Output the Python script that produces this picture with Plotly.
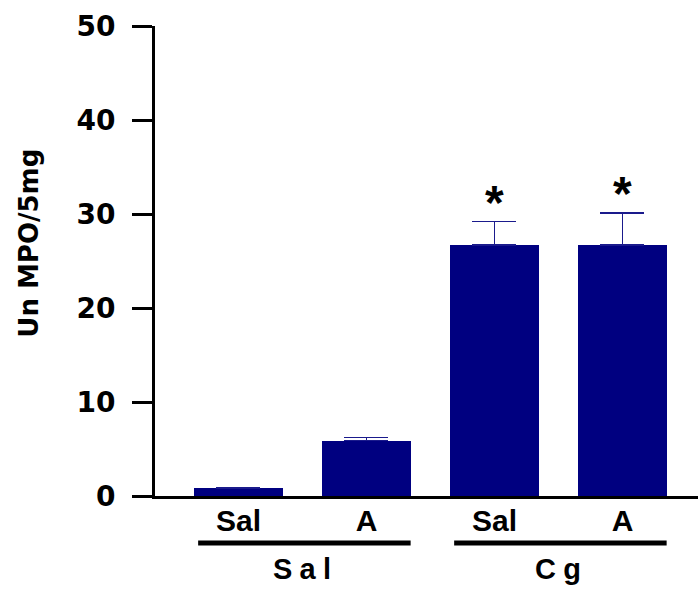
import plotly.graph_objects as go

# Treatment categories (inner label) and groups (outer label)
categories = ["Sal", "A", "Sal", "A"]
groups = ["Sal", "Cg"]
group_members = [[0, 1], [2, 3]]

# Mean MPO units per 5 mg tissue and SEM
means = [0.8, 5.9, 26.7, 26.7]
sems = [0.1, 0.35, 2.5, 3.4]
significant = [False, False, True, True]

y_ticks = [0, 10, 20, 30, 40, 50]

NAVY = "#000080"
FONT = "Liberation Sans, Arial, sans-serif"
WIDE_FONT = "DejaVu Sans, Verdana, sans-serif"
BAR_W = 0.69


def spaced(s, sep="\u2009"):
    return sep.join(list(s))


x_idx = list(range(len(categories)))

fig = go.Figure()
fig.add_trace(go.Bar(
    x=x_idx,
    y=means,
    width=BAR_W,
    marker=dict(color=NAVY, line=dict(width=0)),
    error_y=dict(
        type="data", symmetric=False, array=sems,
        arrayminus=[0] * len(sems),
        color="#1a1a8c", thickness=1.3, width=22,
    ),
    showlegend=False,
    hoverinfo="skip",
))

annotations = []
# significance asterisks above error bars
for i, (m, s, sig) in enumerate(zip(means, sems, significant)):
    if sig:
        annotations.append(dict(
            x=i, y=m + s, xref="x", yref="y", text="<b>*</b>",
            showarrow=False, yanchor="bottom", yshift=-9,
            font=dict(family=FONT, size=48, color="black"),
        ))

# group brackets and group labels
shapes = []
for g, members in zip(groups, group_members):
    x0 = members[0] - BAR_W / 2 + 0.03
    x1 = members[-1] + BAR_W / 2
    shapes.append(dict(
        type="line", xref="x", yref="paper",
        x0=x0, x1=x1, y0=-0.10, y1=-0.10,
        line=dict(color="black", width=5),
    ))
    annotations.append(dict(
        x=(members[0] + members[-1]) / 2, y=-0.118, xref="x", yref="paper",
        text="<b>" + spaced(g, "\u2005") + "</b>", showarrow=False,
        yanchor="top", font=dict(family=FONT, size=29, color="black"),
    ))

# y-axis title
annotations.append(dict(
    x=-0.231, y=0.538, xref="paper", yref="paper",
    xanchor="center", yanchor="middle",
    text="<b>Un MPO/5mg</b>", textangle=-90,
    showarrow=False,
    font=dict(family=WIDE_FONT, size=26, color="black"),
))

fig.update_layout(
    width=698, height=589,
    margin=dict(l=155, r=0, t=26, b=93),
    paper_bgcolor="white", plot_bgcolor="white",
    bargap=0,
    xaxis=dict(
        range=[-0.652, 3.59],
        tickmode="array", tickvals=x_idx,
        ticktext=["<b>" + c + "</b>" for c in categories],
        tickfont=dict(family=FONT, size=30, color="black"),
        showline=True, linecolor="black", linewidth=3,
        ticks="",
        ticklabelstandoff=-4,
        showgrid=False, zeroline=False, fixedrange=True,
    ),
    yaxis=dict(
        range=[0, 50],
        tickmode="array", tickvals=y_ticks,
        ticktext=["<b>" + str(v) + "</b>" for v in y_ticks],
        tickfont=dict(family=WIDE_FONT, size=28, color="black"),
        showline=True, linecolor="black", linewidth=3,
        ticks="outside", ticklen=20, tickwidth=3, tickcolor="black",
        ticklabelstandoff=11,
        showgrid=False, zeroline=False, fixedrange=True,
    ),
    shapes=shapes,
    annotations=annotations,
)

fig.write_html("out.html")
